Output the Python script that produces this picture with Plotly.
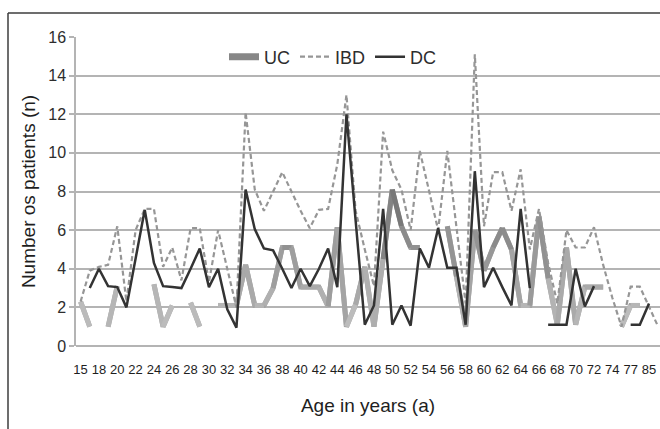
import plotly.graph_objects as go

# ---------------- data ----------------
ages = ["15", "17", "18", "19", "20", "21", "22", "23", "24", "25", "26", "27", "28", "29",
        "30", "31", "32", "33", "34", "35", "36", "37", "38", "39", "40", "41", "42", "43",
        "44", "45", "46", "47", "48", "49", "50", "51", "52", "53", "54", "55", "56", "57",
        "58", "59", "60", "61", "62", "63", "64", "65", "66", "67", "68", "69", "70", "71",
        "72", "73", "74", "76", "77", "79", "85", "88"]

tick_labels = ["15", "18", "20", "22", "24", "26", "28", "30", "32", "34", "36", "38", "40",
               "42", "44", "46", "48", "50", "52", "54", "56", "58", "60", "62", "64", "66",
               "68", "70", "72", "74", "77", "85"]

uc = [2.3, 1.0, None, 1.0, 3.1, None, None, None, 3.2, 1.0, 2.1, None, 2.25, 1.0, None,
      2.1, 2.1, 2.1, 4.2, 2.1, 2.1, 3.0, 5.1, 5.1, 3.05, 3.05, 3.05, 2.05, 6.15, 1.0,
      2.15, 4.1, 1.0, 4.5, 8.1, 6.2, 5.1, 5.1, None, None, 6.2, 3.6, 1.0, 6.0, 3.9, 5.1,
      6.1, 5.0, 2.1, 2.1, 6.7, 3.5, 1.1, 5.1, 1.1, 3.05, 3.05, 3.05, None, 1.0, 2.1, 2.1,
      None, None]

ibd = [2.3, 3.9, 4.1, 4.2, 6.2, 2.3, 6.0, 7.1, 7.1, 4.1, 5.1, 3.4, 6.1, 6.1, 3.3, 6.0,
       4.0, 2.0, 12.1, 8.1, 7.0, 8.0, 9.0, 8.0, 7.0, 6.1, 7.05, 7.1, 9.4, 13.0, 7.0, 5.0,
       3.1, 11.1, 9.1, 8.1, 6.0, 10.1, 8.0, 6.0, 10.1, 6.1, 2.2, 15.1, 6.2, 9.0, 9.0, 7.0,
       9.15, 5.0, 7.1, 4.3, 2.2, 6.0, 5.1, 5.1, 6.15, 4.2, 2.5, 1.0, 3.07, 3.07, 2.0, 1.0]

dc = [None, 3.0, 4.0, 3.1, 3.05, 2.0, 4.5, 7.05, 4.3, 3.1, 3.05, 3.0, 4.0, 5.05, 3.05,
      4.0, 1.9, 0.95, 8.1, 6.05, 5.05, 4.95, 4.0, 3.0, 4.0, 3.1, 4.0, 5.05, 3.05, 12.0,
      6.5, 1.1, 2.1, 7.1, 1.1, 2.1, 1.05, 5.05, 4.05, 6.1, 4.05, 4.05, 1.1, 9.05, 3.05,
      4.05, 3.05, 2.1, 7.1, 3.0, None, 1.1, 1.1, 1.1, 4.0, 2.05, 3.1, None, None, None,
      1.1, 1.1, 2.2, None]

series_names = ["UC", "IBD", "DC"]

# ---------------- figure ----------------
W, H = 660, 429
ML, MR, MT, MB = 76, 0, 37, 83

fig = go.Figure()


def uc_gray(v):
    lvl = int(round(195 - (min(max(v, 1), 8) - 1) * (85 / 7)))
    return f"rgb({lvl},{lvl},{lvl})"


# UC base (covers joins), then gradient-like segments
fig.add_trace(go.Scatter(x=ages, y=uc, mode="lines", connectgaps=False,
                         line=dict(color="rgb(165,165,165)", width=5),
                         showlegend=False, hoverinfo="skip"))
for i in range(len(ages) - 1):
    a, b = uc[i], uc[i + 1]
    if a is None or b is None:
        continue
    fig.add_trace(go.Scatter(x=[ages[i], ages[i + 1]], y=[a, b], mode="lines",
                             line=dict(color=uc_gray((a + b) / 2), width=5),
                             showlegend=False, hoverinfo="skip"))
# legend entry for UC
fig.add_trace(go.Scatter(x=[None], y=[None], mode="lines", name=series_names[0],
                         line=dict(color="rgb(135,135,135)", width=7)))

fig.add_trace(go.Scatter(x=ages, y=ibd, mode="lines", name=series_names[1],
                         line=dict(color="rgb(150,150,150)", width=2.2, dash="5px,3px")))
fig.add_trace(go.Scatter(x=ages, y=dc, mode="lines", name=series_names[2],
                         line=dict(color="rgb(51,51,51)", width=2.5)))

plot_w = W - ML - MR
plot_h = H - MT - MB
fx = lambda px: (px - ML) / plot_w
fy = lambda py: (H - MB - py) / plot_h

# outer frame (left and top edges of the original chart box)
fig.add_shape(type="line", xref="paper", yref="paper",
              x0=fx(8), x1=fx(8), y0=fy(13), y1=fy(440),
              line=dict(color="rgb(60,60,60)", width=1.5))
fig.add_shape(type="line", xref="paper", yref="paper",
              x0=fx(8), x1=fx(670), y0=fy(13), y1=fy(13),
              line=dict(color="rgb(60,60,60)", width=1.5))

fig.update_layout(
    width=W, height=H,
    margin=dict(l=ML, r=MR, t=MT, b=MB, autoexpand=False),
    paper_bgcolor="white", plot_bgcolor="white",
    font=dict(family="Liberation Sans, Arial, sans-serif", color="rgb(45,45,45)"),
    showlegend=True,
    legend=dict(orientation="h", x=fx(224), y=fy(57), xanchor="left", yanchor="middle",
                bgcolor="rgba(255,255,255,0)", font=dict(size=18),
                itemwidth=30, tracegroupgap=0),
    xaxis=dict(type="category", categoryorder="array", categoryarray=ages,
               range=[-0.5, 63.2], showgrid=False, zeroline=False, showline=False,
               tickmode="array", tickvals=tick_labels, ticktext=tick_labels,
               ticks="", tickangle=0,
               tickfont=dict(size=13, family="Liberation Sans Narrow, Arial Narrow, Liberation Sans, Arial",
                             color="rgb(30,30,30)"),
               ticklabelstandoff=14,
               title=dict(text="Age in years (a)", font=dict(size=19, color="rgb(30,30,30)"),
                          standoff=22),
               automargin=False),
    yaxis=dict(range=[0, 16], dtick=2, tick0=0, showgrid=True,
               gridcolor="rgb(180,180,180)", gridwidth=1.5,
               zeroline=True, zerolinecolor="rgb(180,180,180)", zerolinewidth=1.5,
               showline=True, linecolor="rgb(180,180,180)", linewidth=1.5,
               ticks="outside", ticklen=5, tickcolor="rgb(180,180,180)", tickwidth=1.5,
               tickfont=dict(size=16, color="rgb(45,45,45)"),
               title=dict(text="Number os patients (n)", font=dict(size=19, color="rgb(30,30,30)"),
                          standoff=8),
               automargin=False),
)

fig.write_html("out.html")
